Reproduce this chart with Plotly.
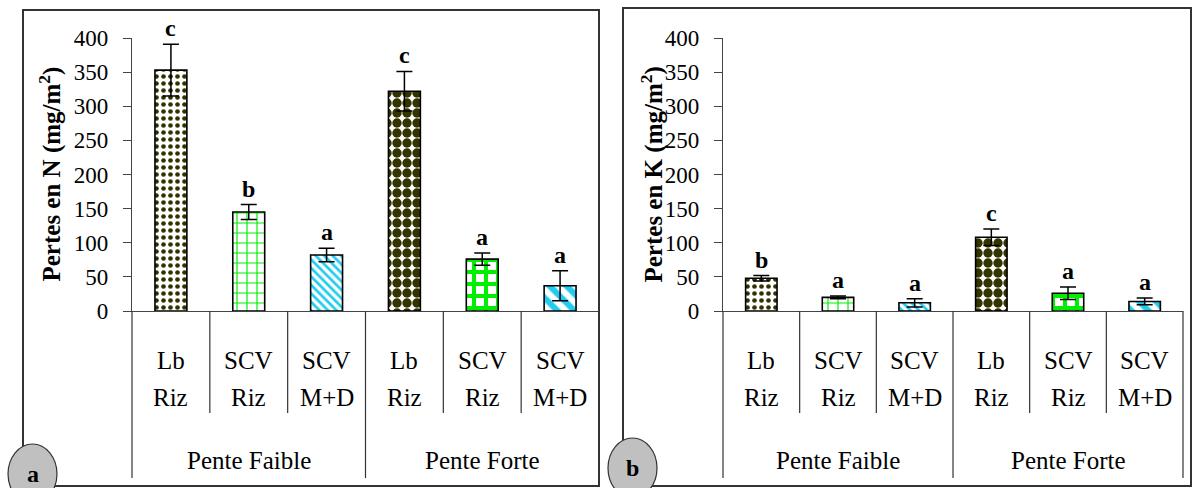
import plotly.graph_objects as go

# data
cat_top = ["Lb", "SCV", "SCV", "Lb", "SCV", "SCV"]
cat_bottom = ["Riz", "Riz", "M+D", "Riz", "Riz", "M+D"]
groups = ["Pente Faible", "Pente Forte"]
group_size = 3

n_loss = [353, 145, 82, 322, 76, 37]
n_err = [38, 11, 10, 29, 9, 22]
n_letters = ["c", "b", "a", "c", "a", "a"]

k_loss = [48, 20, 12, 108, 26, 14]
k_err = [4, 2, 6, 12, 9, 5]
k_letters = ["b", "a", "a", "c", "a", "a"]

# bar fill styles (Excel-like hatch patterns)
pat_shape = [".", "+", "\\", ".", "+", "\\"]
pat_fg = ["#333300", "#00ee00", "#22ccee", "#333300", "#00ee00", "#22ccee"]
pat_size = [7, 10, 6, 10, 12, 12]
pat_solid = [0.35, 0.22, 0.45, 0.7, 0.55, 0.5]

W, H = 1194, 488
FONT = "'Liberation Serif', 'Times New Roman', Times, serif"


def px(x):
    return x / W


def py(y):
    return (H - y) / H


def txt(size, bold=False):
    return dict(family=FONT, size=size, color="black")


xs = list(range(len(cat_top)))

fig = go.Figure()

panels = [
    dict(vals=n_loss, err=n_err, letters=n_letters, xa="x", ya="y",
         title="<b>Pertes en N (mg/m<sup>2</sup>)</b>", title_x=50,
         box=(23, 10, 599, 486), circ=(8, 444, 57, 504), tag="a"),
    dict(vals=k_loss, err=k_err, letters=k_letters, xa="x2", ya="y2",
         title="<b>Pertes en K (mg/m<sup>2</sup>)</b>", title_x=652,
         box=(623, 8, 1191, 486), circ=(608, 438, 657, 498), tag="b"),
]

shapes = []
annotations = []
ncat = len(xs)

for p in panels:
    fig.add_trace(go.Bar(
        x=xs, y=p["vals"], xaxis=p["xa"], yaxis=p["ya"], width=0.41,
        marker=dict(color="white",
                    line=dict(color="black", width=1.6),
                    pattern=dict(shape=pat_shape, fgcolor=pat_fg, bgcolor="white",
                                 size=pat_size, solidity=pat_solid, fillmode="replace")),
        error_y=dict(type="data", array=p["err"], visible=True,
                     color="black", thickness=1.5, width=8),
        showlegend=False, hoverinfo="skip",
    ))
    xd = p["xa"] + " domain"
    yd = p["ya"] + " domain"
    # category separators below the axis
    for k in range(ncat + 1):
        long = k % group_size == 0
        shapes.append(dict(type="line", xref=xd, yref=yd, x0=k / ncat, x1=k / ncat,
                           y0=0, y1=-0.612 if long else -0.374,
                           line=dict(color="#333", width=1.2)))
    # category labels, two lines
    for i in xs:
        annotations.append(dict(x=i, y=-0.18, xref=p["xa"], yref=yd, text=cat_top[i],
                                xanchor="center", yanchor="middle",
                                showarrow=False, font=txt(25)))
        annotations.append(dict(x=i, y=-0.318, xref=p["xa"], yref=yd, text=cat_bottom[i],
                                xanchor="center", yanchor="middle",
                                showarrow=False, font=txt(25)))
        annotations.append(dict(x=i, y=p["vals"][i] + p["err"][i], xref=p["xa"], yref=p["ya"],
                                text="<b>%s</b>" % p["letters"][i], showarrow=False,
                                xanchor="center", yanchor="bottom", yshift=1, font=txt(24)))
    for g, name in enumerate(groups):
        mid = g * group_size + (group_size - 1) / 2
        annotations.append(dict(x=mid, y=-0.546, xref=p["xa"], yref=yd, text=name,
                                xanchor="center", yanchor="middle",
                                showarrow=False, font=txt(25)))
    annotations.append(dict(x=px(p["title_x"]), y=0.5, xref="paper", yref=yd, text=p["title"],
                            xanchor="center", yanchor="middle",
                            textangle=-90, showarrow=False, font=txt(25)))
    # panel frame and corner tag
    x0, y0, x1, y1 = p["box"]
    shapes.append(dict(type="rect", xref="paper", yref="paper", x0=px(x0), x1=px(x1),
                       y0=py(y1), y1=py(y0), line=dict(color="#333", width=2), layer="above"))
    cx0, cy0, cx1, cy1 = p["circ"]
    shapes.append(dict(type="circle", xref="paper", yref="paper", x0=px(cx0), x1=px(cx1),
                       y0=py(cy1), y1=py(cy0), fillcolor="#c0c0c0",
                       line=dict(color="#333", width=1.2), layer="above"))
    annotations.append(dict(x=px((cx0 + cx1) / 2), y=py(cy0 + 30), xref="paper", yref="paper",
                            text="<b>%s</b>" % p["tag"], showarrow=False,
                            xanchor="center", yanchor="middle", font=txt(24)))

yax = dict(range=[0, 400], dtick=50, showgrid=False, zeroline=False, automargin=False,
           showline=True, linecolor="#444", linewidth=1.2,
           ticks="outside", ticklen=8, tickcolor="#444", ticklabelstandoff=10,
           tickfont=txt(23))
xax = dict(range=[-0.5, 5.5], showgrid=False, zeroline=False, showticklabels=False,
           automargin=False, showline=True, linecolor="#444", linewidth=1.2, ticks="")

ybot, ytop = py(311), py(38)
fig.update_layout(
    width=W, height=H, margin=dict(l=0, r=0, t=0, b=0, autoexpand=False),
    paper_bgcolor="white", plot_bgcolor="white",
    xaxis=dict(xax, domain=[px(132), px(599)]),
    yaxis=dict(yax, domain=[ybot, ytop], anchor="x"),
    xaxis2=dict(xax, domain=[px(723), px(1183)], anchor="y2"),
    yaxis2=dict(yax, domain=[ybot, ytop], anchor="x2"),
    shapes=shapes, annotations=annotations,
    font=dict(family=FONT, color="black"),
)

# page margin would push the fixed-size figure off the window
fig.write_html("out.html", config={"displayModeBar": False},
               post_script="document.body.style.margin='0';")
